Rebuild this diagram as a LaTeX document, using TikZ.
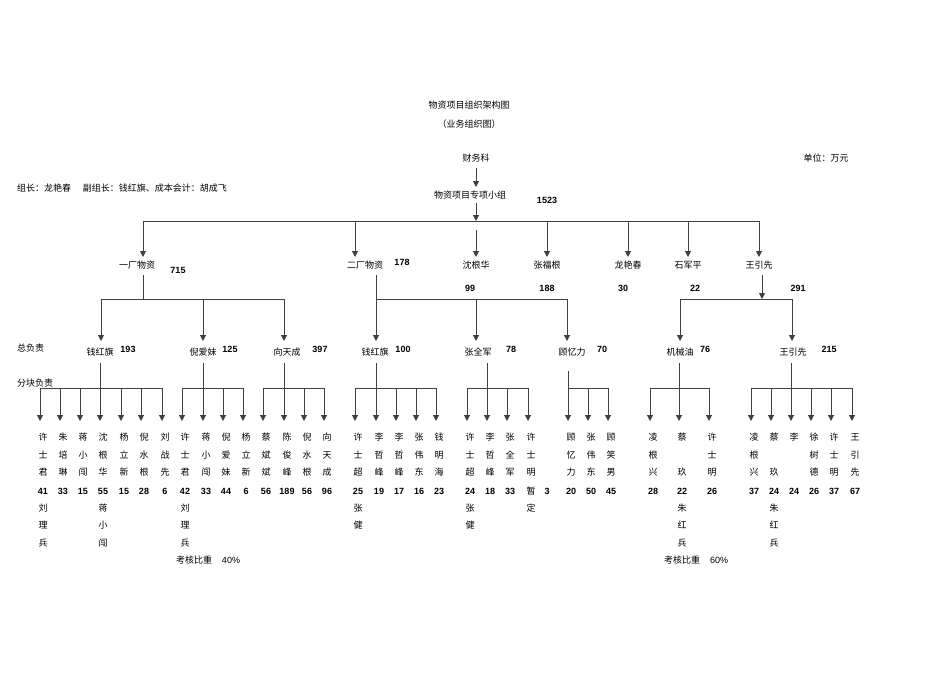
\documentclass[tikz,border=0pt]{standalone}
\usepackage{fontspec}
\setmainfont{Noto Sans CJK SC}
\newfontfamily\nf{Liberation Sans}
\usetikzlibrary{arrows.meta}
\begin{document}
\begin{tikzpicture}[x=1pt,y=-1pt,
  every node/.style={inner sep=0pt,font=\fontsize{9}{10}\selectfont},
  num/.style={font=\fontsize{9}{10}\selectfont\nf\bfseries},
  ln/.style={line width=1pt,black!75},
  arr/.style={ln,-{Triangle[width=6pt,length=6pt]}}]
\useasboundingbox (0,0) rectangle (950,672);
% header
\node (title) at (469,105) {物资项目组织架构图};
\node (sub) at (469,124) {（业务组织图）};
\node (cwk) at (476,158) {财务科};
\node (unit) at (826,158) {单位：万元};
\node[anchor=west] (lead) at (17,188) {组长：龙艳春\hspace{1.3em}副组长：钱红旗、成本会计：胡成飞};
\node (zx) at (470,195) {物资项目专项小组};
\node[num] (n1523) at (547,200) {1523};
\draw[arr] (476,168) -- (476,187);
\draw[arr] (476,203) -- (476,221);
% level 1
\draw[ln] (143,221) -- (759,221);
\node (yc) at (137,265) {一厂物资};
\node (ec) at (365,265) {二厂物资};
\node (sgh) at (476,265) {沈根华};
\node (zfg) at (547,265) {张福根};
\node (lyc) at (628,265) {龙艳春};
\node (sjp) at (688,265) {石军平};
\node (wyx) at (759,265) {王引先};
\foreach \x/\n in {143/yc,355/ec,547/zfg,628/lyc,688/sjp,759/wyx}
  \draw[arr] (\x,221) -- (\x,257);
\draw[arr] (476,230) -- (476,257);
\node[num] at (178,270) {715};
\node[num] at (402,262) {178};
\node[num] at (470,288) {99};
\node[num] at (547,288) {188};
\node[num] at (623,288) {30};
\node[num] at (695,288) {22};
\node[num] at (798,288) {291};
% level 2
\draw[ln] (143,275) -- (143,299);
\draw[ln] (101,299) -- (284,299);
\draw[ln] (376,275) -- (376,299);
\draw[ln] (376,299) -- (567,299);
\draw[arr] (762,275) -- (762,299);
\draw[ln] (680,299) -- (792,299);
\foreach \x in {101,203,284,376,476,567,680,792}
  \draw[arr] (\x,299) -- (\x,341);
\node (qhq1) at (100,352) {钱红旗}; \node[num] at (128,349) {193};
\node (nam) at (203,352) {倪爱妹}; \node[num] at (230,349) {125};
\node (xtc) at (287,352) {向天成}; \node[num] at (320,349) {397};
\node (qhq2) at (375,352) {钱红旗}; \node[num] at (403,349) {100};
\node (zqj) at (478,352) {张全军}; \node[num] at (511,349) {78};
\node (gyl) at (572,352) {顾忆力}; \node[num] at (602,349) {70};
\node (jxy) at (680,352) {机械油}; \node[num] at (705,349) {76};
\node (wyx2) at (793,352) {王引先}; \node[num] at (829,349) {215};
\node[anchor=west] (zfz) at (17,348) {总负责};
\node[anchor=west] (fkfz) at (17,383) {分块负责};
% level 3 buses
\foreach \s/\a/\b in {100/40/162,203/182/243,284/263/324,376/355/436,487/467/528,679/650/709,791/751/852}{
  \draw[ln] (\s,363) -- (\s,388);
  \draw[ln] (\a,388) -- (\b,388);}
\draw[ln] (568,371) -- (568,388);
\draw[ln] (568,388) -- (608,388);
% columns
\foreach \x/\a/\b/\c/\n/\d/\e/\f in {
 40/许/士/君/41/刘/理/兵, 60/朱/培/琳/33/{}/{}/{}, 80/蒋/小/闯/15/{}/{}/{},
 100/沈/根/华/55/蒋/小/闯, 121/杨/立/新/15/{}/{}/{}, 141/倪/水/根/28/{}/{}/{},
 162/刘/战/先/6/{}/{}/{},
 182/许/士/君/42/刘/理/兵, 203/蒋/小/闯/33/{}/{}/{}, 223/倪/爱/妹/44/{}/{}/{},
 243/杨/立/新/6/{}/{}/{},
 263/蔡/斌/斌/56/{}/{}/{}, 284/陈/俊/峰/189/{}/{}/{}, 304/倪/水/根/56/{}/{}/{},
 324/向/天/成/96/{}/{}/{},
 355/许/士/超/25/张/健/{}, 376/李/哲/峰/19/{}/{}/{}, 396/李/哲/峰/17/{}/{}/{},
 416/张/伟/东/16/{}/{}/{}, 436/钱/明/海/23/{}/{}/{},
 467/许/士/超/24/张/健/{}, 487/李/哲/峰/18/{}/{}/{}, 507/张/全/军/33/{}/{}/{},
 528/许/士/明/{\normalfont 暂}/定/{}/{},
 568/顾/忆/力/20/{}/{}/{}, 588/张/伟/东/50/{}/{}/{}, 608/顾/笑/男/45/{}/{}/{},
 650/凌/根/兴/28/{}/{}/{}, 679/蔡/{}/玖/22/朱/红/兵, 709/许/士/明/26/{}/{}/{},
 751/凌/根/兴/37/{}/{}/{}, 771/蔡/{}/玖/24/朱/红/兵, 791/李/{}/{}/24/{}/{}/{},
 811/徐/树/德/26/{}/{}/{}, 831/许/士/明/37/{}/{}/{}, 852/王/引/先/67/{}/{}/{}}{
  \coordinate (c\x) at (\x,421);
  \draw[arr] (\x,388) -- (c\x);
  \node (t\x) at (\x+3,437) {\a};
  \node at (\x+3,455) {\b};
  \node at (\x+3,472) {\c};
  \node[num] at (\x+3,491) {\n};
  \node at (\x+3,508) {\d};
  \node at (\x+3,525) {\e};
  \node at (\x+3,543) {\f};
}
\node[num] at (547,491) {3};
\node (kh1) at (194,560) {考核比重}; \node[font=\fontsize{9}{10}\selectfont\nf] at (231,560) {40\%};
\node (kh2) at (682,560) {考核比重}; \node[font=\fontsize{9}{10}\selectfont\nf] at (719,560) {60\%};
\end{tikzpicture}
\end{document}
